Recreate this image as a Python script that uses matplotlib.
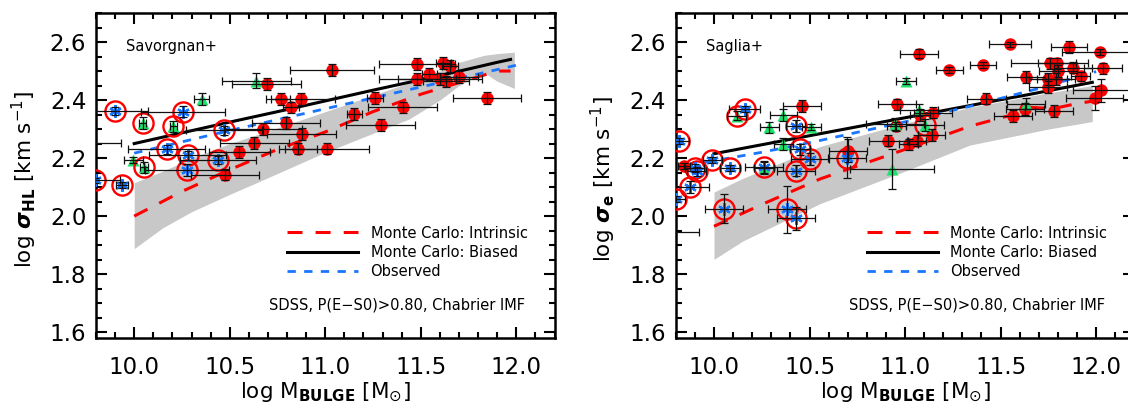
import matplotlib
matplotlib.use("Agg")
import matplotlib.pyplot as plt
import numpy as np
from matplotlib.ticker import MultipleLocator

# ---------------- data: left panel (Savorgnan+) ----------------
left_red_x = [10.694, 11.037, 10.767, 10.872, 10.820, 10.795, 10.676, 10.877, 10.629, 10.550,
              10.856, 11.008, 10.475, 11.260, 11.152, 11.290, 11.405, 11.479, 11.618, 11.653,
              11.482, 11.545, 11.600, 11.630, 11.700, 11.846, 9.680]
left_red_y = [2.456, 2.504, 2.403, 2.403, 2.375, 2.320, 2.301, 2.283, 2.253, 2.222,
              2.233, 2.233, 2.143, 2.407, 2.352, 2.315, 2.375, 2.524, 2.527, 2.518,
              2.473, 2.490, 2.473, 2.464, 2.479, 2.408, 2.251]
left_red_xerr = [0.18, 0.22, 0.05, 0.18, 0.04, 0.18, 0.20, 0.18, 0.18, 0.16,
                 0.10, 0.22, 0.18, 0.04, 0.04, 0.18, 0.18, 0.20, 0.04, 0.04,
                 0.20, 0.04, 0.22, 0.12, 0.10, 0.18, 0.25]
left_red_yerr = [0.02, 0.02, 0.02, 0.02, 0.02, 0.02, 0.02, 0.02, 0.02, 0.02,
                 0.02, 0.02, 0.02, 0.02, 0.02, 0.02, 0.02, 0.02, 0.02, 0.02,
                 0.02, 0.02, 0.02, 0.02, 0.02, 0.02, 0.02]

left_tri_x = [9.995, 10.353, 10.640]
left_tri_y = [2.194, 2.403, 2.467]
left_tri_xerr = [0.05, 0.04, 0.18]
left_tri_yerr = [0.01, 0.02, 0.025]

left_ctri_x = [10.044, 10.205, 10.050]
left_ctri_y = [2.320, 2.309, 2.168]
left_ctri_xerr = [0.02, 0.02, 0.02]
left_ctri_yerr = [0.02, 0.02, 0.02]

left_star_x = [9.900, 10.257, 10.470, 10.170, 10.280, 10.440, 10.275, 9.935, 9.795]
left_star_y = [2.362, 2.360, 2.296, 2.230, 2.210, 2.193, 2.160, 2.106, 2.123]
left_star_xerr = [0.17, 0.22, 0.20, 0.20, 0.20, 0.20, 0.22, 0.03, 0.13]
left_star_yerr = [0.015, 0.02, 0.015, 0.015, 0.015, 0.015, 0.02, 0.01, 0.01]

left_mc_x = [10.0, 10.25, 10.5, 10.75, 11.0, 11.25, 11.5, 11.75, 11.9, 11.97]
left_intrinsic = [2.00, 2.085, 2.16, 2.23, 2.29, 2.36, 2.42, 2.47, 2.50, 2.50]
left_biased = [2.25, 2.287, 2.324, 2.36, 2.397, 2.434, 2.47, 2.507, 2.53, 2.54]
left_obs_x = [10.0, 10.5, 11.0, 11.5, 12.0]
left_obs = [2.217, 2.295, 2.37, 2.445, 2.52]
left_band_x = [10.0, 10.15, 10.3, 10.5, 10.64, 11.0, 11.44, 11.6, 11.7, 11.83, 11.9, 11.99]
left_band_lo = [1.888, 1.96, 2.015, 2.075, 2.115, 2.22, 2.335, 2.40, 2.45, 2.495, 2.465, 2.44]
left_band_hi = [2.115, 2.155, 2.20, 2.25, 2.28, 2.36, 2.46, 2.50, 2.53, 2.554, 2.56, 2.565]

# ---------------- data: right panel (Saglia+) ----------------
right_red_x = [9.843, 10.462, 11.075, 11.232, 10.956, 10.953, 10.913, 11.020, 11.060, 11.140,
               11.145, 11.078, 10.700, 11.548, 11.859, 12.020, 11.408, 11.757, 11.797, 11.880,
               12.037, 11.800, 11.635, 11.749, 11.790, 11.920, 11.426, 11.749, 12.028, 11.993,
               11.565, 11.780, 11.627, 9.720]
right_red_y = [2.173, 2.379, 2.560, 2.503, 2.385, 2.309, 2.260, 2.247, 2.260, 2.279,
               2.357, 2.349, 2.226, 2.592, 2.582, 2.567, 2.520, 2.526, 2.526, 2.512,
               2.509, 2.500, 2.479, 2.473, 2.473, 2.482, 2.405, 2.445, 2.433, 2.407,
               2.346, 2.362, 2.370, 1.944]
right_red_xerr = [0.03, 0.10, 0.10, 0.07, 0.10, 0.05, 0.10, 0.05, 0.05, 0.07,
                  0.10, 0.05, 0.10, 0.11, 0.095, 0.20, 0.07, 0.20, 0.10, 0.10,
                  0.10, 0.10, 0.10, 0.10, 0.10, 0.05, 0.10, 0.10, 0.15, 0.15,
                  0.10, 0.10, 0.10, 0.20]
right_red_yerr = [0.01, 0.02, 0.015, 0.01, 0.02, 0.015, 0.02, 0.02, 0.02, 0.02,
                  0.02, 0.02, 0.04, 0.008, 0.02, 0.01, 0.01, 0.02, 0.02, 0.02,
                  0.02, 0.02, 0.02, 0.02, 0.02, 0.015, 0.02, 0.02, 0.04, 0.04,
                  0.02, 0.02, 0.02, 0.01]

right_tri_x = [10.363, 10.290, 10.510, 10.363, 10.262, 11.005, 10.930, 11.075, 10.947, 11.635]
right_tri_y = [2.349, 2.306, 2.306, 2.249, 2.165, 2.467, 2.162, 2.365, 2.317, 2.388]
right_tri_xerr = [0.07, 0.05, 0.05, 0.05, 0.05, 0.05, 0.22, 0.10, 0.15, 0.10]
right_tri_yerr = [0.02, 0.02, 0.01, 0.02, 0.02, 0.01, 0.07, 0.02, 0.02, 0.02]

right_ctri_x = [10.119, 11.105]
right_ctri_y = [2.346, 2.313]
right_ctri_xerr = [0.05, 0.10]
right_ctri_yerr = [0.015, 0.02]

right_star_x = [9.817, 10.160, 10.428, 9.990, 9.900, 9.910, 10.084, 10.262, 10.428, 10.450,
                10.503, 9.874, 9.800, 10.052, 10.381, 10.428, 10.695]
right_star_y = [2.258, 2.368, 2.311, 2.193, 2.166, 2.155, 2.165, 2.170, 2.157, 2.230,
                2.196, 2.100, 2.060, 2.026, 2.023, 1.993, 2.202]
right_star_xerr = [0.05, 0.08, 0.05, 0.05, 0.05, 0.05, 0.05, 0.10, 0.10, 0.05,
                   0.10, 0.10, 0.05, 0.10, 0.10, 0.10, 0.10]
right_star_yerr = [0.01, 0.01, 0.02, 0.01, 0.015, 0.015, 0.01, 0.02, 0.02, 0.02,
                   0.02, 0.02, 0.01, 0.05, 0.08, 0.04, 0.07]

right_mc_x = [10.0, 10.25, 10.555, 11.0, 11.34, 11.555, 11.64, 11.78, 11.9, 11.98]
right_intrinsic = [1.965, 2.04, 2.128, 2.23, 2.31, 2.348, 2.375, 2.371, 2.388, 2.396]
right_biased = [2.215, 2.246, 2.284, 2.339, 2.381, 2.408, 2.418, 2.436, 2.451, 2.461]
right_obs_x = [9.95, 10.25, 10.55, 11.0, 11.35, 11.7, 12.0]
right_obs = [2.185, 2.22, 2.26, 2.325, 2.38, 2.44, 2.498]
right_band_x = [10.0, 10.15, 10.555, 11.0, 11.34, 11.75, 11.98]
right_band_lo = [1.851, 1.914, 2.043, 2.155, 2.245, 2.30, 2.326]
right_band_hi = [2.083, 2.13, 2.24, 2.32, 2.375, 2.425, 2.45]

RED = "#ff0000"
BLUE = "#1a75ff"
GREEN = "#1de36a"
GREY = "#c8c8c8"


def draw_panel(ax, d, ylabel, tag):
    ax.fill_between(d["band_x"], d["band_lo"], d["band_hi"], color=GREY, lw=0, zorder=1)
    h_intr, = ax.plot(d["mc_x"], d["intr"], color=RED, lw=2.2, dashes=(4.9, 4.3), zorder=2,
                      label="Monte Carlo: Intrinsic")
    h_bias, = ax.plot(d["mc_x"], d["bias"], color="black", lw=2.2, zorder=2,
                      label="Monte Carlo: Biased")
    h_obs, = ax.plot(d["obs_x"], d["obs"], color=BLUE, lw=2.0, dashes=(3.0, 3.0), zorder=2,
                     label="Observed")

    ax.plot(d["red"][0], d["red"][1], "o", color=RED, ms=9, mec="none", zorder=3)
    ax.plot(d["tri"][0], d["tri"][1], "^", color=GREEN, ms=8, mec="none", zorder=3)
    ax.plot(d["ctri"][0], d["ctri"][1], "^", color=GREEN, ms=8, mec="none", zorder=3)
    ax.plot(d["ctri"][0], d["ctri"][1], "o", mfc="none", mec=RED, ms=14.5, mew=1.7, zorder=4)
    ax.plot(d["star"][0], d["star"][1], "o", mfc="none", mec=RED, ms=14.5, mew=1.7, zorder=4)
    ax.plot(d["star"][0], d["star"][1], marker=(6, 2, 0), ls="none", color=BLUE, ms=9, mew=1.6,
            zorder=5)
    for key in ("red", "tri", "ctri", "star"):
        x, y, xe, ye = d[key]
        ax.errorbar(x, y, xerr=xe, yerr=ye, fmt="none", ecolor="#111111", elinewidth=0.9,
                    capsize=3, capthick=0.9, zorder=6)

    ax.set_xlim(9.8, 12.2)
    ax.set_ylim(1.58, 2.7)
    ax.xaxis.set_major_locator(MultipleLocator(0.5))
    ax.xaxis.set_minor_locator(MultipleLocator(0.1))
    ax.yaxis.set_major_locator(MultipleLocator(0.2))
    ax.yaxis.set_minor_locator(MultipleLocator(0.05))
    ax.xaxis.set_major_formatter(plt.FormatStrFormatter("%.1f"))
    ax.yaxis.set_major_formatter(plt.FormatStrFormatter("%.1f"))
    ax.tick_params(which="both", direction="in", top=True, right=True, width=1.5)
    ax.tick_params(which="major", length=8, labelsize=16.5)
    ax.tick_params(axis="x", which="major", pad=13)
    ax.tick_params(axis="y", which="major", pad=7)
    ax.tick_params(which="minor", length=4.5)
    for sp in ax.spines.values():
        sp.set_linewidth(1.8)

    ax.set_xlabel(r"log M$_{\mathbf{BULGE}}$ [M$_{\odot}$]", fontsize=15.5)
    ax.set_ylabel(ylabel, fontsize=15.5)
    ax.xaxis.set_label_coords(0.5, -0.13)
    ax.yaxis.set_label_coords(-0.125, 0.49)

    ax.text(0.066, 0.896, tag, transform=ax.transAxes, fontsize=10.5, va="center", ha="left")
    ax.text(0.935, 0.1015, "SDSS, P(E\u2212S0)>0.80, Chabrier IMF", transform=ax.transAxes,
            fontsize=10.5, va="center", ha="right")
    ax.legend(handles=[h_intr, h_bias, h_obs], loc="upper left", bbox_to_anchor=(0.416, 0.346),
              frameon=False, fontsize=10.5, handlelength=4.9, handletextpad=0.85,
              labelspacing=0.3, borderpad=0, borderaxespad=0)


left = {
    "band_x": left_band_x, "band_lo": left_band_lo, "band_hi": left_band_hi,
    "mc_x": left_mc_x, "intr": left_intrinsic, "bias": left_biased,
    "obs_x": left_obs_x, "obs": left_obs,
    "red": (left_red_x, left_red_y, left_red_xerr, left_red_yerr),
    "tri": (left_tri_x, left_tri_y, left_tri_xerr, left_tri_yerr),
    "ctri": (left_ctri_x, left_ctri_y, left_ctri_xerr, left_ctri_yerr),
    "star": (left_star_x, left_star_y, left_star_xerr, left_star_yerr),
}
right = {
    "band_x": right_band_x, "band_lo": right_band_lo, "band_hi": right_band_hi,
    "mc_x": right_mc_x, "intr": right_intrinsic, "bias": right_biased,
    "obs_x": right_obs_x, "obs": right_obs,
    "red": (right_red_x, right_red_y, right_red_xerr, right_red_yerr),
    "tri": (right_tri_x, right_tri_y, right_tri_xerr, right_tri_yerr),
    "ctri": (right_ctri_x, right_ctri_y, right_ctri_xerr, right_ctri_yerr),
    "star": (right_star_x, right_star_y, right_star_xerr, right_star_yerr),
}

fig = plt.figure(figsize=(11.28, 4.09), dpi=100)
ax1 = fig.add_axes([0.0851, 0.1736, 0.4065, 0.7946])
ax2 = fig.add_axes([0.5991, 0.1736, 0.4065, 0.7946])

draw_panel(ax1, left, r"log $\boldsymbol{\sigma}_{\mathbf{HL}}$ [km s$^{-1}$]", "Savorgnan+")
draw_panel(ax2, right, r"log $\boldsymbol{\sigma}_{\mathbf{e}}$ [km s$^{-1}$]", "Saglia+")

fig.savefig("out.png", dpi=100)
